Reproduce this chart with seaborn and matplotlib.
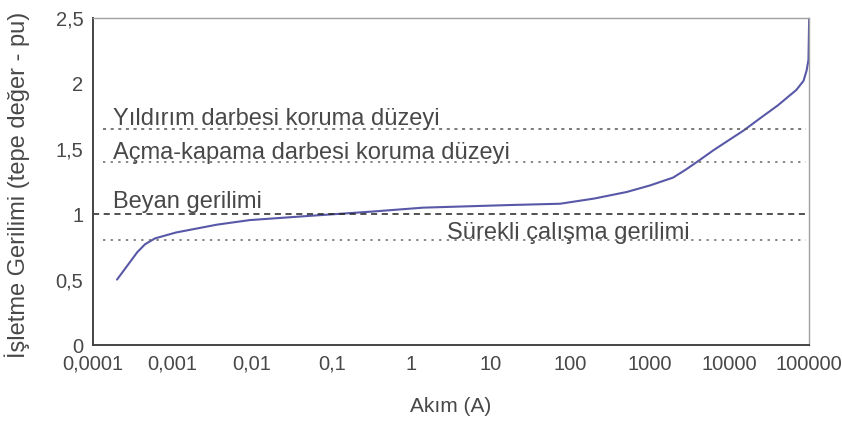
import matplotlib
matplotlib.use('Agg')
import matplotlib.pyplot as plt
import seaborn as sns
import pandas as pd

# Datos
akim = [2.0e-4, 2.8e-4, 3.6e-4, 4.5e-4, 6.0e-4, 1.1e-3, 3.6e-3, 9.3e-3, 0.049, 0.32,
        1.4, 17, 74, 200, 510, 1000, 1950, 2800, 3900, 6300, 10000, 15000, 25000,
        40000, 69000, 85000, 93000, 98000, 1e5]
gerilim = [0.50, 0.62, 0.71, 0.77, 0.815, 0.86, 0.92, 0.955, 0.986, 1.02,
           1.05, 1.07, 1.08, 1.12, 1.17, 1.22, 1.28, 1.34, 1.40, 1.49, 1.57, 1.64, 1.74,
           1.83, 1.95, 2.02, 2.10, 2.18, 2.5]

seviye_adlari = ['Yıldırım darbesi koruma düzeyi', 'Açma-kapama darbesi koruma düzeyi',
                 'Beyan gerilimi', 'Sürekli çalışma gerilimi']
seviye_deger = [1.65, 1.40, 1.00, 0.80]
seviye_stil = [(0, (2, 3)), (0, (1.5, 3.5)), (0, (4, 3)), (0, (1.5, 3.5))]
seviye_renk = ['#555555', '#666666', '#222222', '#666666']
etiket_x = [1.78e-4, 1.78e-4, 1.78e-4, 2.8]
etiket_kayma = [0.035, 0.025, 0.05, 0.012]

x_ticks = [1e-4, 1e-3, 1e-2, 1e-1, 1, 10, 100, 1000, 10000, 100000]
x_labels = ['0,0001', '0,001', '0,01', '0,1', '1', '10', '100', '1000', '10000', '100000']
y_ticks = [0, 0.5, 1, 1.5, 2, 2.5]
y_labels = ['0', '0,5', '1', '1,5', '2', '2,5']

sns.set_theme(style='white')
plt.rcParams['font.family'] = ['Liberation Sans', 'DejaVu Sans']

fig = plt.figure(figsize=(8.42, 4.38), dpi=100)
ax = fig.add_axes([0.1105, 0.2123, 0.8505, 0.7466])

df = pd.DataFrame({'akim': akim, 'gerilim': gerilim})
sns.lineplot(data=df, x='akim', y='gerilim', sort=False, color='#5858a8', linewidth=1.5, ax=ax)

for ad, deger, stil, renk, ex, kay in zip(seviye_adlari, seviye_deger, seviye_stil,
                                          seviye_renk, etiket_x, etiket_kayma):
    x0 = 1e-4 if deger == 1.0 else 1.35e-4
    ax.plot([x0, 9e4], [deger, deger], linestyle=stil, color=renk, linewidth=1.1)
    ax.text(ex, deger + kay, ad, fontsize=17, color='#484848', va='baseline', ha='left')

ax.set_xscale('log')
ax.set_xlim(1e-4, 1e5)
ax.set_ylim(0, 2.5)
ax.set_xticks(x_ticks)
ax.set_xticklabels(x_labels)
ax.minorticks_off()
ax.set_yticks(y_ticks)
ax.set_yticklabels(y_labels)
ax.tick_params(axis='both', labelsize=14.5, colors='#484848', length=4,
               direction='inout', width=0.8, pad=5)

for k in ['left', 'bottom']:
    ax.spines[k].set_color('#444444')
    ax.spines[k].set_linewidth(1.4)
for k in ['top', 'right']:
    ax.spines[k].set_color('#a0a0a0')
    ax.spines[k].set_linewidth(1.0)

ax.set_xlabel('Akım (A)', fontsize=15, color='#484848')
ax.xaxis.set_label_coords(0.5, -0.16)
ax.set_ylabel('İşletme Gerilimi (tepe değer - pu)', fontsize=17, color='#484848')
ax.yaxis.set_label_coords(-0.088, 0.49)

plt.savefig('out.png', dpi=100)
